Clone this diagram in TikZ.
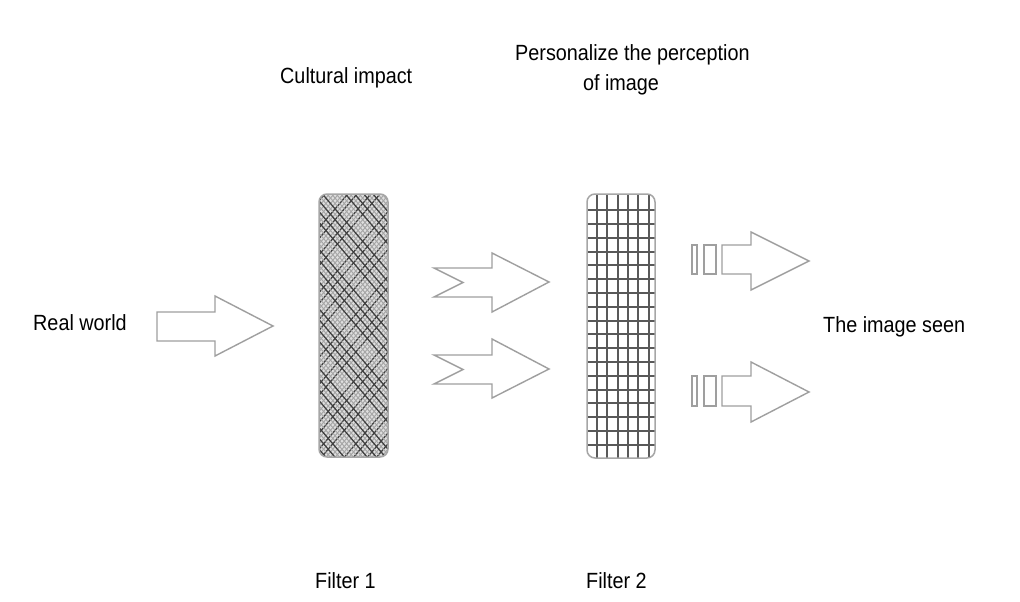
\documentclass[tikz,border=0pt]{standalone}
\usepackage{fontspec}
\setmainfont[FakeStretch=0.9]{Liberation Sans}
\begin{document}
\begin{tikzpicture}[x=1pt,y=-1pt,
  lbl/.style={font=\fontsize{22}{30}\selectfont, inner sep=0pt, text=black},
  blockarrow/.style={draw=gray!75, line width=1.4pt, fill=white, line join=miter},
  frame/.style={draw=gray!70, line width=1.5pt, rounded corners=8pt},
  gridline/.style={draw=black!65, line width=1.8pt}
]
\useasboundingbox[fill=white] (0,0) rectangle (1020,602);

% ---- texts
\node[lbl, anchor=base west] (real) at (33,330) {Real world};
\node[lbl, anchor=base west] (seen) at (823,332) {The image seen};
\node[lbl, anchor=base west] (cult) at (280,83) {Cultural impact};
\node[lbl, anchor=base west] (pers1) at (515,60) {Personalize the perception};
\node[lbl, anchor=base] (pers2) at (621,90) {of image};
\node[lbl, anchor=base west] (f1) at (315,588) {Filter 1};
\node[lbl, anchor=base west] (f2) at (586,588) {Filter 2};

% ---- filter 1 (cross-hatched)
\begin{scope}
  \clip[rounded corners=8pt] (319,194) rectangle (388,457);
  \fill[gray!25] (319,194) rectangle (388,457);
  \foreach \i in {0,...,68} {
    \pgfmathsetmacro{\xa}{89+\i*4.6}
    \pgfmathtruncatemacro{\m}{mod(\i*7,12)}
    \ifnum\m<4 \def\lc{black!75}\def\lw{1.3pt}\else\def\lc{gray!70}\def\lw{1.0pt}\fi
    \draw[draw=\lc, line width=\lw] (\xa,460) -- ++(230,-270);
  }
  \foreach \i in {0,...,68} {
    \pgfmathsetmacro{\xb}{319+\i*4.6}
    \pgfmathtruncatemacro{\m}{mod(\i*5+3,11)}
    \ifnum\m<4 \def\lc{black!75}\def\lw{1.3pt}\else\def\lc{gray!70}\def\lw{1.0pt}\fi
    \draw[draw=\lc, line width=\lw] (\xb,460) -- ++(-230,-270);
  }
\end{scope}
\draw[frame] (319,194) rectangle (388,457);

% ---- filter 2 (square grid)
\begin{scope}
  \clip[rounded corners=8pt] (587,194) rectangle (655,458);
  \foreach \x in {597,607,618,628,638,649}
    \draw[gridline] (\x,190) -- (\x,462);
  \foreach \y in {210,224,238,252,265,279,293,307,321,334,348,362,376,390,403,417,431,445}
    \draw[gridline] (583,\y) -- (659,\y);
\end{scope}
\draw[frame] (587,194) rectangle (655,458);

% ---- input arrow
\draw[blockarrow] (157,312) -- (215,312) -- (215,296) -- (273,326) -- (215,356) -- (215,341) -- (157,341) -- cycle;

% ---- middle notched arrows
\draw[blockarrow] (434,268) -- (492,268) -- (492,253) -- (549,282) -- (492,312) -- (492,297) -- (434,297) -- (463,282.5) -- cycle;
\draw[blockarrow] (434,355) -- (492,355) -- (492,339) -- (549,369) -- (492,398) -- (492,384) -- (434,384) -- (463,369.5) -- cycle;

% ---- output arrows with dashes
\draw[blockarrow] (692,245) rectangle (697,274);
\draw[blockarrow] (704,245) rectangle (716,274);
\draw[blockarrow] (722,245) -- (751,245) -- (751,232) -- (809,261) -- (751,290) -- (751,274) -- (722,274) -- cycle;
\draw[blockarrow] (692,376) rectangle (697,406);
\draw[blockarrow] (704,376) rectangle (716,406);
\draw[blockarrow] (722,376) -- (751,376) -- (751,362) -- (809,392) -- (751,422) -- (751,406) -- (722,406) -- cycle;
\end{tikzpicture}
\end{document}
